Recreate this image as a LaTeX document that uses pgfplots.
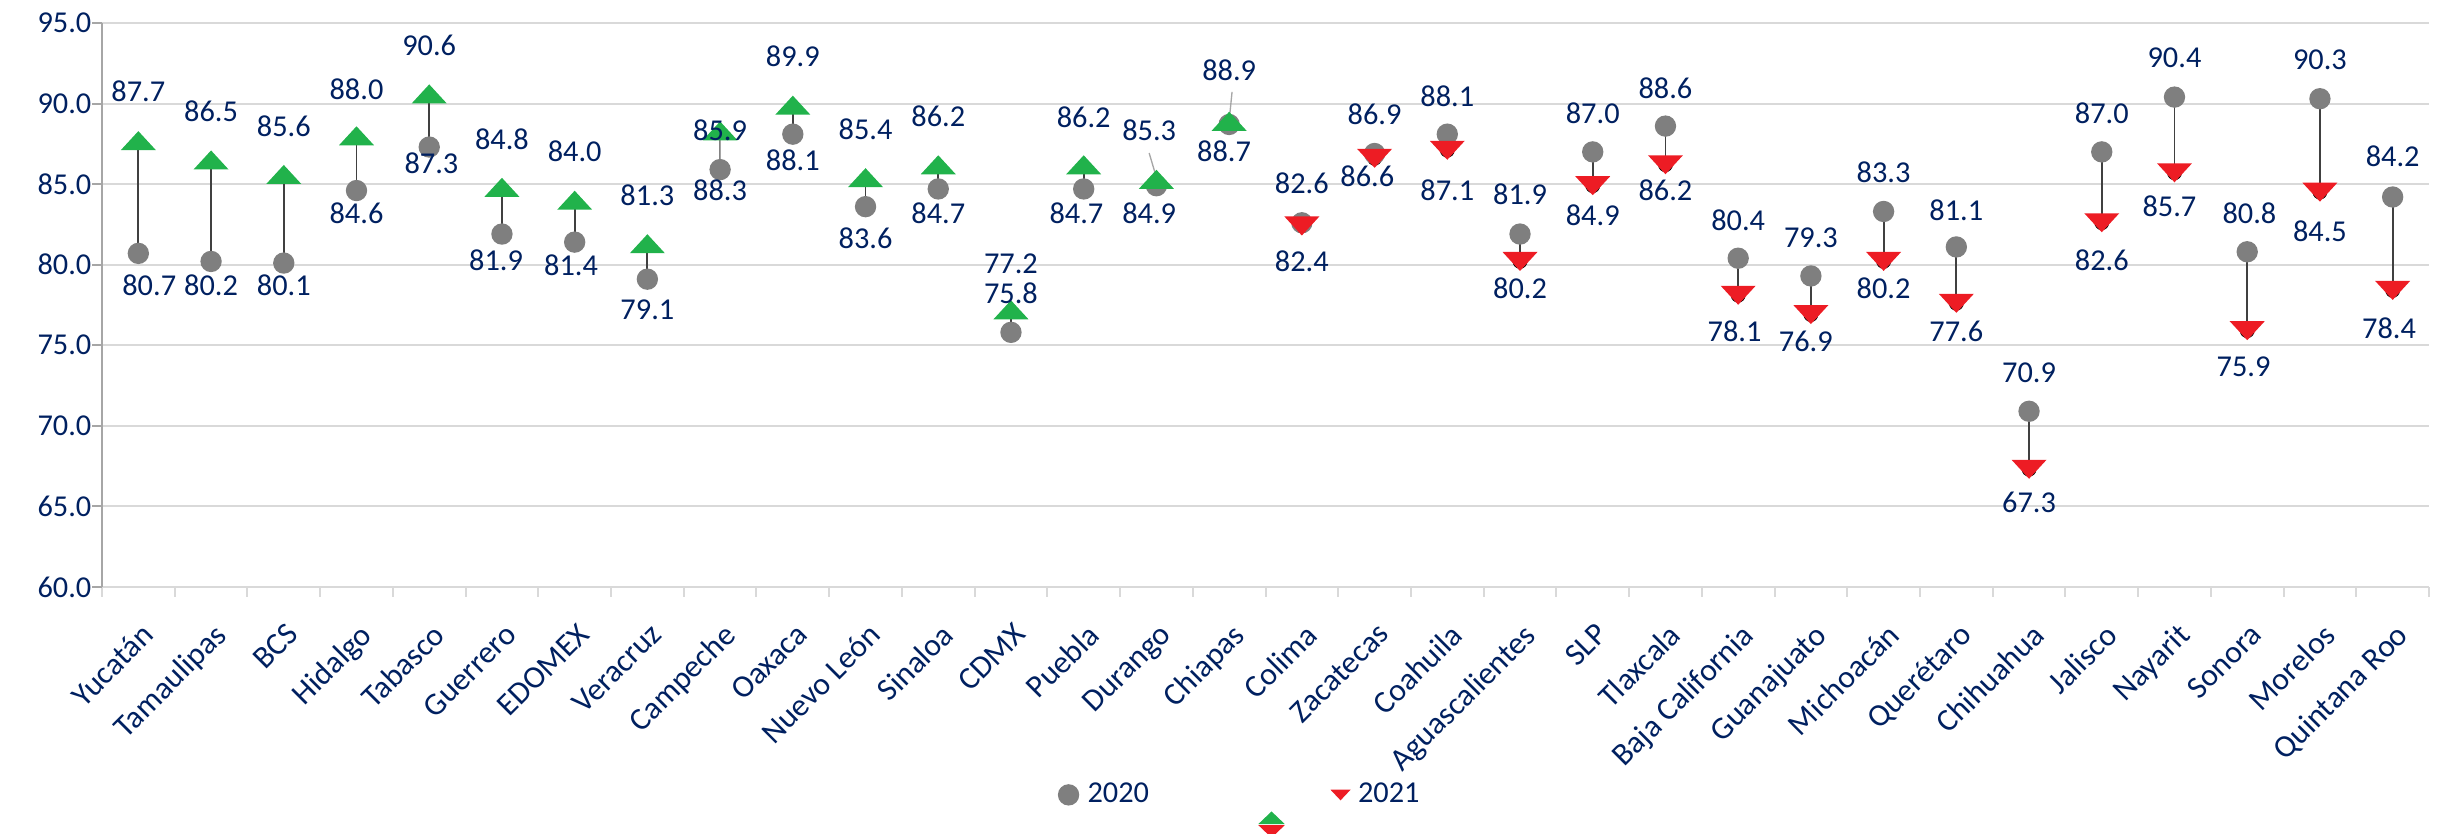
\documentclass[border=0pt]{standalone}
\usepackage{fontspec}
\setmainfont{Carlito}
\usepackage{pgfplots}
\usepackage{pgfplotstable}
\pgfplotsset{compat=1.18}
\definecolor{navy}{HTML}{002060}
\definecolor{c20}{HTML}{7F7F7F}
\definecolor{cup}{RGB}{33,178,75}
\definecolor{cdown}{RGB}{237,28,36}
\definecolor{gridgray}{HTML}{D9D9D9}
\definecolor{axisgray}{HTML}{A6A6A6}
\definecolor{linegray}{HTML}{404040}
\definecolor{leadgray}{HTML}{A6A6A6}
\newcommand\lab{\fontsize{9.1}{11}\selectfont}
\newcommand\xlab{\fontsize{9.5}{11.5}\selectfont}
\pgfdeclareplotmark{tup}{%
  \pgfpathmoveto{\pgfqpoint{-5.25pt}{-2.85pt}}%
  \pgfpathlineto{\pgfqpoint{5.25pt}{-2.85pt}}%
  \pgfpathlineto{\pgfqpoint{0pt}{2.85pt}}%
  \pgfpathclose\pgfusepathqfill}
\pgfdeclareplotmark{tdown}{%
  \pgfpathmoveto{\pgfqpoint{-5.25pt}{2.85pt}}%
  \pgfpathlineto{\pgfqpoint{5.25pt}{2.85pt}}%
  \pgfpathlineto{\pgfqpoint{0pt}{-2.85pt}}%
  \pgfpathclose\pgfusepathqfill}
\pgfplotstableread{
x y20 y21 l20 l21 dx20 dx21
0 80.7 87.7 78.74 90.74 0.15 0
1 80.2 86.5 78.74 89.50 0 0
2 80.1 85.6 78.74 88.57 0 0
3 84.6 88.0 83.19 90.88 0 0
4 87.3 90.6 86.29 93.59 0.03 0
5 81.9 84.8 80.29 87.78 -0.08 0
6 81.4 84.0 79.98 87.01 -0.05 0
7 79.1 81.3 77.19 84.33 0 0
8 85.9 88.3 88.36 84.64 0 0
9 88.1 89.9 86.50 92.91 0 0
10 83.6 85.4 81.64 88.40 0 0
11 84.7 86.2 83.19 89.19 0 0
12 75.8 77.2 78.22 80.08 0 0
13 84.7 86.2 83.19 89.15 -0.1 0
14 84.9 85.3 83.19 88.36 -0.1 -0.1
15 88.7 88.9 87.01 92.04 -0.07 0
16 82.6 82.4 85.05 80.19 0 0
17 86.9 86.6 89.35 85.50 0 -0.1
18 88.1 87.1 90.47 84.64 0 0
19 81.9 80.2 84.39 78.53 0 0
20 87.0 84.9 89.39 83.08 0 0
21 88.6 86.2 90.95 84.64 0 0
22 80.4 78.1 82.77 75.84 0 -0.05
23 79.3 76.9 81.64 75.22 0 -0.07
24 83.3 80.2 85.71 78.55 0 0
25 81.1 77.6 83.39 75.84 0 0
26 70.9 67.3 73.28 65.27 0 0
27 87.0 82.6 89.39 80.29 0 0
28 90.4 85.7 92.81 83.60 0 -0.07
29 80.8 75.9 83.19 73.67 0.03 -0.05
30 90.3 84.5 92.70 82.05 0 0
31 84.2 78.4 86.70 76.05 0 -0.05
}\data
\begin{document}
\begin{tikzpicture}
\begin{axis}[name=ax, scale only axis, width=698.2pt, height=169.2pt,
  xmin=-0.5, xmax=31.5, ymin=60, ymax=95,
  axis x line*=bottom, axis y line*=left,
  x axis line style={gridgray, line width=0.6pt, -},
  y axis line style={axisgray, line width=0.6pt, -},
  ytick={60,65,...,95}, ymajorgrids, grid style={gridgray, line width=0.6pt},
  xtick={-0.5,0.5,...,31.5},
  xticklabels={Yucatán,Tamaulipas,BCS,Hidalgo,Tabasco,Guerrero,EDOMEX,Veracruz,Campeche,Oaxaca,Nuevo León,Sinaloa,CDMX,Puebla,Durango,Chiapas,Colima,Zacatecas,Coahuila,Aguascalientes,SLP,Tlaxcala,Baja California,Guanajuato,Michoacán,Querétaro,Chihuahua,Jalisco,Nayarit,Sonora,Morelos,Quintana Roo,{}},
  tick align=outside, major tick length=3pt,
  xtick style={gridgray, line width=0.6pt},
  ytick style={axisgray, line width=0.6pt},
  yticklabel={\pgfmathprintnumber[fixed,fixed zerofill,precision=1]{\tick}},
  /pgf/number format/assume math mode=true,
  ticklabel style={font=\lab, text=navy},
  xticklabel style={font=\xlab, xshift=11.4pt, yshift=-7.2pt, rotate=45, anchor=north east, inner sep=0pt},
  yticklabel style={anchor=east, inner sep=0pt},
  clip=false,
  legend style={draw=none, fill=none, at={(0.4108,-0.3688)}, anchor=west,
    legend columns=-1, font=\lab, text=navy, inner sep=0pt, outer sep=0pt,
    nodes={inner sep=0pt, text=navy},
    /tikz/every odd column/.append style={column sep=2.5pt},
    /tikz/every even column/.append style={column sep=54.7pt}},
  legend cell align=left,
]
\addlegendimage{legend image code/.code={\fill[c20] (0pt,0pt) circle (3pt);}}
\addlegendentry{2020}
\addlegendimage{legend image code/.code={%
  \fill[cdown] (-2.55pt,1.35pt) -- (2.55pt,1.35pt) -- (0pt,-1.35pt) -- cycle;
  \begin{scope}[overlay, shift={(-20.7pt,-6.9pt)}]
    \fill[cup] (-3.45pt,-1.65pt) -- (3.45pt,-1.65pt) -- (0pt,1.65pt) -- cycle;
    \fill[cdown] (-3.45pt,-2.4pt) -- (3.45pt,-2.4pt) -- (0pt,-5.7pt) -- cycle;
  \end{scope}}}
\addlegendentry{2021}
% connectors
\addplot[only marks, mark=none, forget plot,
  error bars/.cd, y dir=plus, y explicit, error mark=none,
  error bar style={draw=linegray, line width=0.55pt, solid}]
  table[x=x, y expr={min(\thisrow{y20},\thisrow{y21})}, y error expr={abs(\thisrow{y21}-\thisrow{y20})}] {\data};
% 2020 circles
\addplot[only marks, mark=*, mark size=3pt, color=c20, forget plot] table[x=x, y=y20] {\data};
% 2021 up
\addplot[only marks, mark=tup, color=cup, forget plot, restrict x to domain=0:15] table[x=x, y=y21] {\data};
% 2021 down
\addplot[only marks, mark=tdown, color=cdown, forget plot, restrict x to domain=16:31] table[x=x, y=y21] {\data};
% leader lines
\addplot[leadgray, line width=0.4pt, forget plot, unbounded coords=jump] coordinates {(8.0,88.17) (8.0,86.31) (8,nan) (13.90,86.93) (14.01,85.26) (14,nan) (15.04,90.72) (15.0,88.92)};
% labels
\addplot[only marks, mark=none, forget plot, point meta=explicit symbolic, nodes near coords,
  every node near coord/.style={anchor=center, inner sep=0pt, text=navy, font=\lab}]
  table[x expr=\thisrow{x}+\thisrow{dx20}, y=l20, meta=y20] {\data};
\addplot[only marks, mark=none, forget plot, point meta=explicit symbolic, nodes near coords,
  every node near coord/.style={anchor=center, inner sep=0pt, text=navy, font=\lab}]
  table[x expr=\thisrow{x}+\thisrow{dx21}, y=l21, meta=y21] {\data};
\end{axis}
\pgfresetboundingbox
\path[use as bounding box] ([shift={(-30.6pt,-74.1pt)}]ax.south west) rectangle ([shift={(2.4pt,6.9pt)}]ax.north east);
\end{tikzpicture}
\end{document}
